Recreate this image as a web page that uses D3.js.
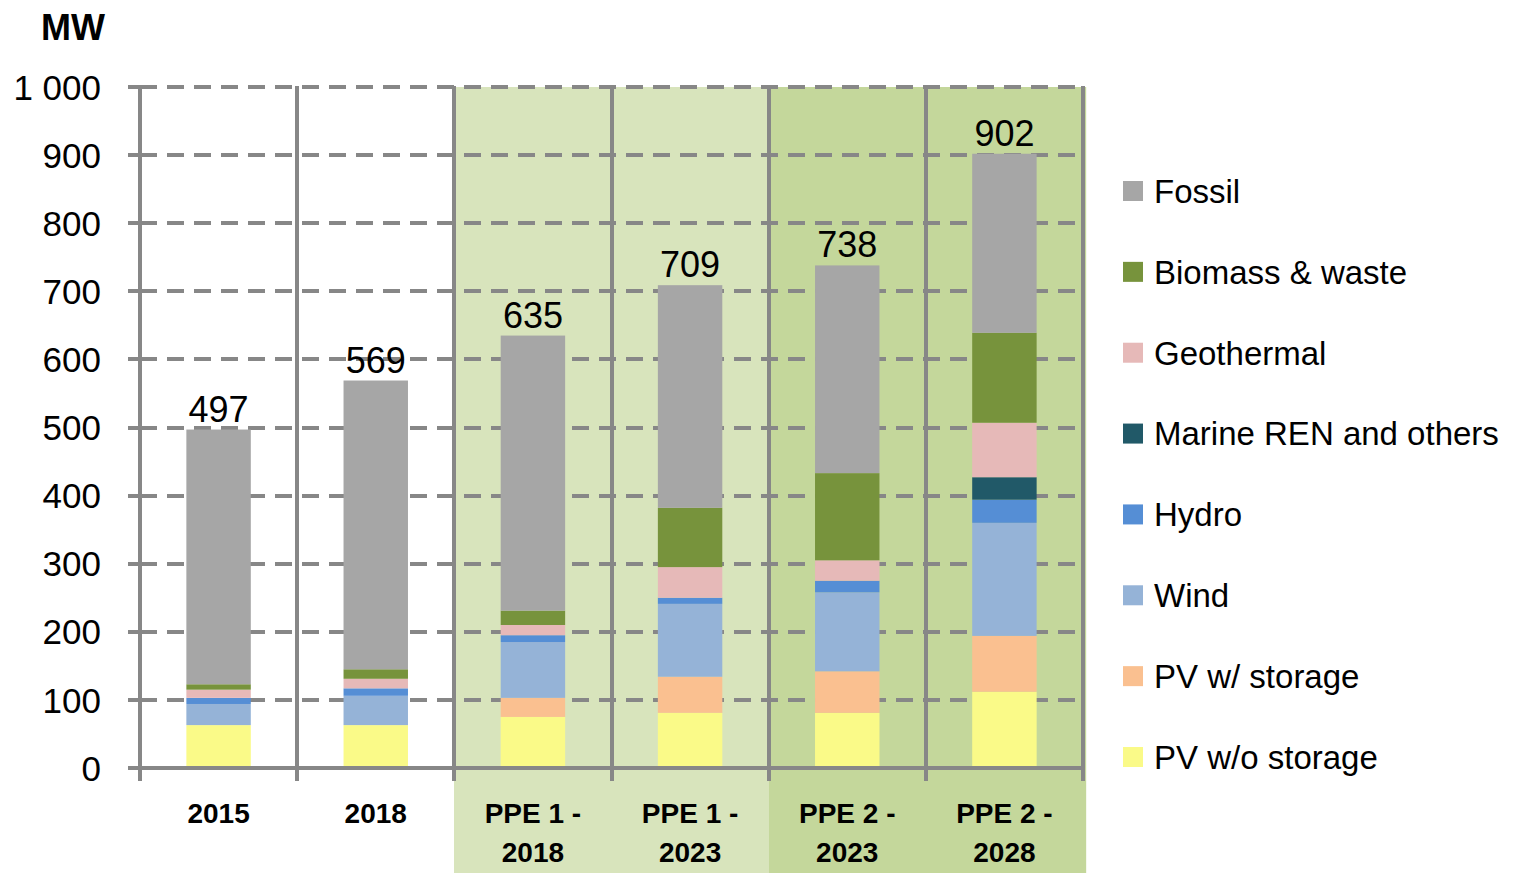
<!DOCTYPE html>
<html>
<head>
<meta charset="utf-8">
<script src="https://cdn.jsdelivr.net/npm/d3@7"></script>
<style>
  html, body { margin: 0; padding: 0; background: #ffffff; }
  svg { display: block; font-family: "Liberation Sans", Arial, sans-serif; }
</style>
</head>
<body>
<svg id="chart" width="1513" height="873"></svg>
<script>
// ---------- DATA ----------
const categories = ["2015", "2018", "PPE 1 - 2018", "PPE 1 - 2023", "PPE 2 - 2023", "PPE 2 - 2028"];
const categoryLines = [["2015"], ["2018"], ["PPE 1 -", "2018"], ["PPE 1 -", "2023"], ["PPE 2 -", "2023"], ["PPE 2 -", "2028"]];
const categoryGroup = ["none", "none", "PPE1", "PPE1", "PPE2", "PPE2"];

// stack order, bottom to top
const seriesNames = ["PV w/o storage", "PV w/ storage", "Wind", "Hydro", "Marine REN and others", "Geothermal", "Biomass & waste", "Fossil"];
const pvWithoutStorage = [63, 63, 75, 81, 81, 112];
const pvWithStorage    = [0, 0, 28, 53, 61, 82];
const wind             = [31, 43, 82, 107, 116, 166];
const hydro            = [9, 11, 10, 9, 17, 34];
const marine           = [0, 0, 0, 0, 0, 33];
const geothermal       = [12, 14, 15, 45, 30, 80];
const biomass          = [8, 14, 21, 87, 128, 132];
const fossil           = [374, 424, 404, 327, 305, 263];
const totals           = [497, 569, 635, 709, 738, 902];

const yTicks = [0, 100, 200, 300, 400, 500, 600, 700, 800, 900, 1000];
const yTitle = "MW";

// ---------- STYLE ----------
const seriesColors = {
  "PV w/o storage": "#fafa88",
  "PV w/ storage": "#fac090",
  "Wind": "#95b3d7",
  "Hydro": "#558ed5",
  "Marine REN and others": "#215968",
  "Geothermal": "#e6b9b8",
  "Biomass & waste": "#77933c",
  "Fossil": "#a6a6a6"
};
const groupFill = { none: "none", PPE1: "#d8e4bc", PPE2: "#c4d79b" };
const gridColor = "#878787";

const seriesValues = [pvWithoutStorage, pvWithStorage, wind, hydro, marine, geothermal, biomass, fossil];
const rows = categories.map((c, i) => {
  const r = { category: c };
  seriesNames.forEach((s, k) => { r[s] = seriesValues[k][i]; });
  return r;
});

// ---------- LAYOUT ----------
const svg = d3.select("#chart");
const W = 1513, H = 873;
const plot = { left: 140, right: 1083, top: 87, bottom: 768 };

const x = d3.scaleBand().domain(categories).range([plot.left, plot.right]).paddingInner(0).paddingOuter(0);
const barW = x.bandwidth() * 0.41;
const y = d3.scaleLinear().domain([0, 1000]).range([plot.bottom, plot.top]);

const fmt = d3.formatLocale({ decimal: ".", thousands: " ", grouping: [3], currency: ["", ""] }).format(",d");

// backgrounds
svg.append("g").selectAll("rect")
  .data(categories.filter((c, i) => categoryGroup[i] !== "none"))
  .join("rect")
  .attr("x", d => Math.round(x(d)))
  .attr("y", y(1000))
  .attr("width", (d) => x.step() + (categories.indexOf(d) === categories.length - 1 ? 3 : 1))
  .attr("height", H - y(1000))
  .attr("fill", d => groupFill[categoryGroup[categories.indexOf(d)]]);

// horizontal dashed grid
const gGrid = svg.append("g");
gGrid.selectAll("line.grid")
  .data(yTicks.filter(t => t > 0))
  .join("line")
  .attr("class", "grid")
  .attr("x1", plot.left).attr("x2", plot.right)
  .attr("y1", d => Math.round(y(d))).attr("y2", d => Math.round(y(d)))
  .attr("stroke", gridColor).attr("stroke-width", 4)
  .attr("stroke-dasharray", "17,10");

// stacked bars
const stack = d3.stack().keys(seriesNames)(rows);
svg.append("g").selectAll("g")
  .data(stack)
  .join("g")
  .attr("fill", d => seriesColors[d.key])
  .selectAll("rect")
  .data(d => d.filter(p => p[1] - p[0] > 0))
  .join("rect")
  .attr("x", d => x(d.data.category) + (x.bandwidth() - barW) / 2)
  .attr("y", d => y(d[1]))
  .attr("width", barW)
  .attr("height", d => y(d[0]) - y(d[1]));

// vertical category separators (with tick below axis)
const boundaries = categories.map(c => x(c)).concat([plot.right]);
svg.append("g").selectAll("line")
  .data(boundaries)
  .join("line")
  .attr("x1", d => Math.round(d)).attr("x2", d => Math.round(d))
  .attr("y1", y(1000) - 1).attr("y2", plot.bottom + 13)
  .attr("stroke", gridColor).attr("stroke-width", 4);

// y-axis ticks to the left
svg.append("g").selectAll("line")
  .data(yTicks)
  .join("line")
  .attr("x1", plot.left - 12).attr("x2", plot.left)
  .attr("y1", d => Math.round(y(d))).attr("y2", d => Math.round(y(d)))
  .attr("stroke", gridColor).attr("stroke-width", 4);

// x axis baseline
svg.append("line")
  .attr("x1", plot.left - 12).attr("x2", plot.right + 2)
  .attr("y1", y(0)).attr("y2", y(0))
  .attr("stroke", gridColor).attr("stroke-width", 4);

// y tick labels
svg.append("g").selectAll("text")
  .data(yTicks)
  .join("text")
  .attr("x", 101)
  .attr("y", d => y(d))
  .attr("dy", "0.36em")
  .attr("text-anchor", "end")
  .attr("font-size", 35)
  .attr("fill", "#000")
  .text(d => fmt(d));

// y title
svg.append("text")
  .attr("x", 73).attr("y", 40)
  .attr("text-anchor", "middle")
  .attr("font-size", 36).attr("font-weight", "bold")
  .attr("fill", "#000")
  .text(yTitle);

// total labels
svg.append("g").selectAll("text")
  .data(totals)
  .join("text")
  .attr("x", (d, i) => x(categories[i]) + x.bandwidth() / 2)
  .attr("y", d => y(d) - 8)
  .attr("text-anchor", "middle")
  .attr("font-size", 36)
  .attr("fill", "#000")
  .text(d => d);

// category labels
const gX = svg.append("g");
categories.forEach((c, i) => {
  const t = gX.append("text")
    .attr("x", x(c) + x.bandwidth() / 2)
    .attr("y", 823)
    .attr("text-anchor", "middle")
    .attr("font-size", 28).attr("font-weight", "bold")
    .attr("fill", "#000");
  categoryLines[i].forEach((line, j) => {
    t.append("tspan")
      .attr("x", x(c) + x.bandwidth() / 2)
      .attr("dy", j === 0 ? 0 : 39)
      .text(line);
  });
});

// legend (top to bottom: reverse of stack order)
const legendItems = seriesNames.slice().reverse();
const lg = svg.append("g");
const legendY = d3.scalePoint().domain(legendItems).range([191, 757]);
legendItems.forEach(name => {
  lg.append("rect")
    .attr("x", 1123).attr("y", legendY(name) - 10)
    .attr("width", 20).attr("height", 20)
    .attr("fill", seriesColors[name]);
  lg.append("text")
    .attr("x", 1154).attr("y", legendY(name))
    .attr("dy", "0.36em")
    .attr("font-size", 33)
    .attr("fill", "#000")
    .text(name);
});
</script>
</body>
</html>
